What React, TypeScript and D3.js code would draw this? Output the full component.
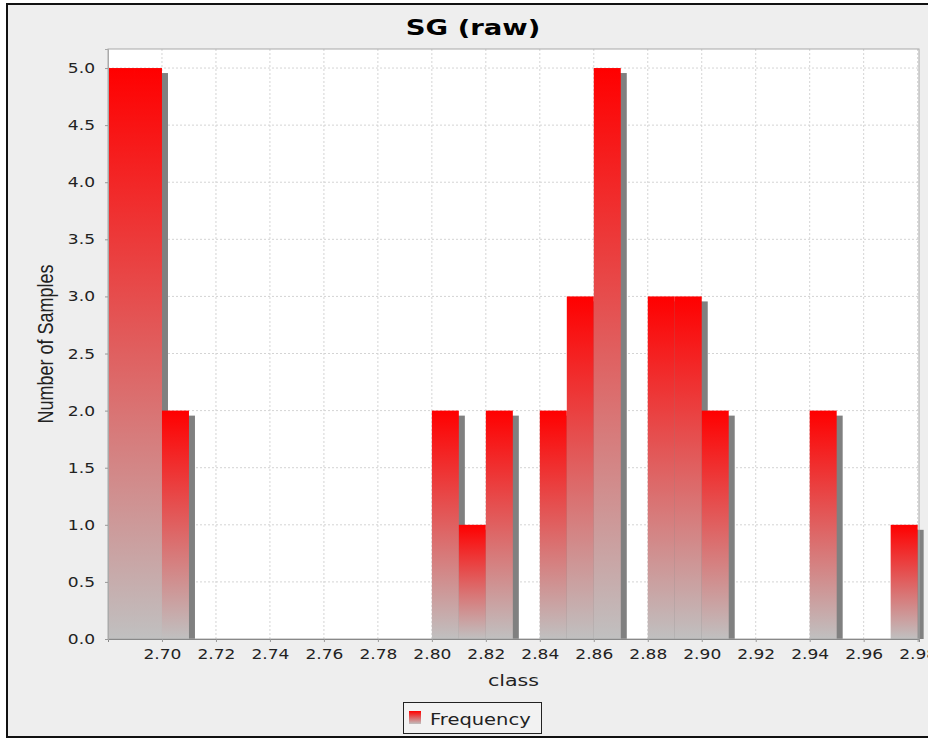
import { useEffect, useRef } from 'react';
import * as d3 from 'd3';

// histogram bins (lower edge) and their counts
const binStarts = [2.68, 2.69, 2.70, 2.80, 2.81, 2.82, 2.84, 2.85, 2.86, 2.88, 2.89, 2.90, 2.94, 2.97];
const counts = [5, 5, 2, 2, 1, 2, 2, 3, 5, 3, 3, 2, 2, 1];
const binWidth = 0.01;

const xTicks = d3.range(0, 15).map(i => 2.70 + i * 0.02);
const yTicks = d3.range(0, 11).map(i => i * 0.5);

const title = 'SG (raw)';
const xLabel = 'class';
const yLabel = 'Number of Samples';
const seriesName = 'Frequency';

// the original render is a bit stretched horizontally
const SX = 1.22;

export default function App() {
  const svgRef = useRef<SVGSVGElement>(null);

  useEffect(() => {
    if (!svgRef.current) return;
    const svg = d3.select(svgRef.current);
    svg.selectAll('*').remove();

    const W = 928;
    const H = 740;
    const plot = { left: 108, top: 49, right: 919, bottom: 639 };

    const x = d3.scaleLinear().domain([2.68, 2.9805]).range([plot.left, plot.right]);
    const y = d3.scaleLinear().domain([0, 5.1667]).range([plot.bottom, plot.top]);

    const defs = svg.append('defs');
    const grad = defs.append('linearGradient')
      .attr('id', 'barGrad')
      .attr('x1', 0).attr('y1', 0).attr('x2', 0).attr('y2', 1);
    grad.append('stop').attr('offset', '0%').attr('stop-color', '#ff0000');
    grad.append('stop').attr('offset', '100%').attr('stop-color', '#c0c0c0');

    // stretched text helper
    const label = (cx: number, cy: number, txt: string, size: number, anchor = 'middle', opts: { bold?: boolean; family?: string; sx?: number } = {}) =>
      svg.append('text')
        .attr('transform', `translate(${cx},${cy}) scale(${opts.sx ?? SX},1)`)
        .attr('text-anchor', anchor)
        .attr('font-family', opts.family ?? 'DejaVu Sans')
        .attr('font-weight', opts.bold ? 'bold' : 'normal')
        .attr('font-size', size)
        .attr('fill', '#222')
        .text(txt);

    // page + outer frame
    svg.append('rect').attr('width', W).attr('height', H).attr('fill', '#ffffff');
    svg.append('rect')
      .attr('x', 7).attr('y', 4)
      .attr('width', 960).attr('height', 733)
      .attr('fill', '#eeeeee')
      .attr('stroke', '#111')
      .attr('stroke-width', 2);

    label(473, 35, title, 22, 'middle', { bold: true, sx: 1.25 }).attr('fill', '#000');

    // plot background
    svg.append('rect')
      .attr('x', plot.left).attr('y', plot.top)
      .attr('width', plot.right - plot.left).attr('height', plot.bottom - plot.top)
      .attr('fill', '#ffffff');

    // gridlines
    const grid = svg.append('g');
    grid.selectAll('line.gx')
      .data(xTicks)
      .join('line')
      .attr('class', 'gx')
      .attr('x1', d => x(d)).attr('x2', d => x(d))
      .attr('y1', plot.top).attr('y2', plot.bottom)
      .attr('stroke', '#d4d4d4')
      .attr('stroke-dasharray', '2,2');
    grid.selectAll('line.gy')
      .data(yTicks.filter(d => d > 0))
      .join('line')
      .attr('class', 'gy')
      .attr('x1', plot.left).attr('x2', plot.right)
      .attr('y1', d => y(d)).attr('y2', d => y(d))
      .attr('stroke', '#d4d4d4')
      .attr('stroke-dasharray', '2,2');

    const bins = binStarts.map((s, i) => ({ x0: s, x1: s + binWidth, n: counts[i] }));

    // shadows
    svg.append('g')
      .selectAll('rect')
      .data(bins)
      .join('rect')
      .attr('x', d => x(d.x0) + 6)
      .attr('y', d => y(d.n) + 5)
      .attr('width', d => x(d.x1) - x(d.x0))
      .attr('height', d => y(0) - y(d.n) - 5)
      .attr('fill', '#808080');

    // bars
    svg.append('g')
      .selectAll('rect')
      .data(bins)
      .join('rect')
      .attr('x', d => x(d.x0))
      .attr('y', d => y(d.n))
      .attr('width', d => x(d.x1) - x(d.x0))
      .attr('height', d => y(0) - y(d.n))
      .attr('fill', 'url(#barGrad)');

    // plot outline
    svg.append('rect')
      .attr('x', plot.left).attr('y', plot.top)
      .attr('width', plot.right - plot.left).attr('height', plot.bottom - plot.top)
      .attr('fill', 'none')
      .attr('stroke', '#a8a8a8');

    // x axis
    const xAxis = svg.append('g')
      .attr('transform', `translate(0,${plot.bottom})`)
      .call(d3.axisBottom(x).tickValues(xTicks).tickFormat(d3.format('.2f')).tickSize(3).tickPadding(7));
    xAxis.select('.domain').attr('stroke', '#888');
    xAxis.selectAll('.tick line').attr('stroke', '#999');
    xAxis.selectAll('.tick text')
      .attr('transform', `scale(${SX},1)`)
      .attr('font-family', 'DejaVu Sans')
      .attr('font-size', 14)
      .attr('fill', '#222');

    // y axis
    const yAxis = svg.append('g')
      .attr('transform', `translate(${plot.left},0)`)
      .call(d3.axisLeft(y).tickValues(yTicks).tickFormat(d3.format('.1f')).tickSize(3));
    yAxis.select('.domain').attr('stroke', '#aaa');
    yAxis.selectAll('.tick line').attr('stroke', '#999');
    yAxis.selectAll('.tick text')
      .attr('x', -13 / SX)
      .attr('transform', `scale(${SX},1)`)
      .attr('font-family', 'DejaVu Sans')
      .attr('font-size', 14)
      .attr('fill', '#222');

    // axis labels
    label((plot.left + plot.right) / 2, 686, xLabel, 16.5, 'middle', { sx: 1.25 });

    svg.append('text')
      .attr('transform', `translate(53,${(plot.top + plot.bottom) / 2}) scale(${SX},1) rotate(-90)`)
      .attr('text-anchor', 'middle')
      .attr('font-family', 'Liberation Sans')
      .attr('font-size', 18)
      .attr('fill', '#222')
      .text(yLabel);

    // legend
    const lg = svg.append('g');
    lg.append('rect')
      .attr('x', 403.5).attr('y', 702.5)
      .attr('width', 138).attr('height', 31)
      .attr('fill', '#f2f2f2')
      .attr('stroke', '#222');
    lg.append('rect')
      .attr('x', 409).attr('y', 711)
      .attr('width', 12).attr('height', 13)
      .attr('fill', 'url(#barGrad)');
    label(430, 725, seriesName, 16, 'start');
  }, []);

  return (
    <svg
      ref={svgRef}
      width={928}
      height={740}
      style={{ position: 'absolute', left: 0, top: 0 }}
    />
  );
}
